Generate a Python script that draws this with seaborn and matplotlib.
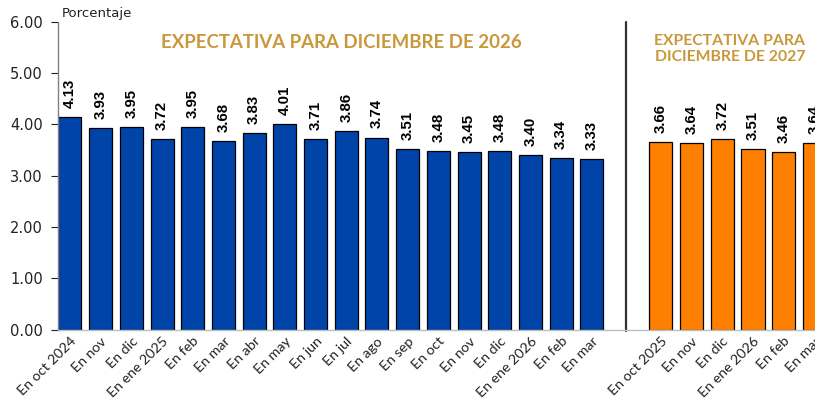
import matplotlib
matplotlib.use("Agg")
import matplotlib.pyplot as plt
import seaborn as sns
import pandas as pd
import numpy as np

# ---- data ----
labels_2026 = ["En oct 2024", "En nov", "En dic", "En ene 2025", "En feb", "En mar",
               "En abr", "En may", "En jun", "En jul", "En ago", "En sep",
               "En oct", "En nov", "En dic", "En ene 2026", "En feb", "En mar"]
values_2026 = [4.13, 3.93, 3.95, 3.72, 3.95, 3.68, 3.83, 4.01, 3.71, 3.86, 3.74, 3.51,
               3.48, 3.45, 3.48, 3.40, 3.34, 3.33]
labels_2027 = ["En oct 2025", "En nov", "En dic", "En ene 2026", "En feb", "En mar"]
values_2027 = [3.66, 3.64, 3.72, 3.51, 3.46, 3.64]
y_ticks = [0, 1, 2, 3, 4, 5, 6]

title_2026 = "EXPECTATIVA PARA DICIEMBRE DE 2026"
title_2027 = "EXPECTATIVA PARA\nDICIEMBRE DE 2027"
ylabel = "Porcentaje"

# ---- layout ----
gap_offset = 1.25  # extra space between the two groups
pos_2026 = list(np.arange(len(values_2026), dtype=float))
pos_2027 = list(np.arange(len(values_2027), dtype=float) + len(values_2026) + gap_offset)
sep_x = len(values_2026) - 1 + (gap_offset + 1) / 2

df = pd.DataFrame({
    "pos": pos_2026 + pos_2027,
    "valor": values_2026 + values_2027,
    "serie": ["2026"] * len(values_2026) + ["2027"] * len(values_2027),
})

sns.set_theme(style="white")
plt.rcParams["font.family"] = ["DejaVu Sans"]

W, H = 815, 407
fig = plt.figure(figsize=(W / 100, H / 100), dpi=100)
ax = fig.add_axes([58 / W, (H - 329.5) / H, 1 - 58 / W, (329.5 - 21.5) / H])

palette = {"2026": "#0044AA", "2027": "#FF8000"}
sns.barplot(data=df, x="pos", y="valor", hue="serie", palette=palette, native_scale=True,
            dodge=False, width=0.75, edgecolor="black", linewidth=0.9, legend=False,
            saturation=1, ax=ax)

for c in ax.containers:
    ax.bar_label(c, fmt="%.2f", rotation=90, padding=6.5, fontsize=10.8, fontweight="bold",
                 family="Liberation Sans", color="black")

ax.set_xlim(-0.39, pos_2027[-1] + 0.02)
ax.set_ylim(0, 6)
ax.set_yticks(y_ticks, [f"{v:.2f}" for v in y_ticks])
ax.set_xticks(pos_2026 + pos_2027, labels_2026 + labels_2027, rotation=45, ha="right",
              rotation_mode="anchor", family="Lato")
ax.tick_params(axis="x", length=0, labelsize=10.3, pad=4, colors="#222222")
ax.tick_params(axis="y", length=5, width=0.8, labelsize=10.5, colors="#222222", left=True,
               direction="out", pad=6)
ax.set_xlabel("")
ax.set_ylabel("")
for s in ["top", "right"]:
    ax.spines[s].set_visible(False)
ax.spines["left"].set_color("#808080")
ax.spines["bottom"].set_color("#BFBFBF")
ax.spines["left"].set_linewidth(1)
ax.spines["bottom"].set_linewidth(1)

ax.plot([sep_x, sep_x], [-0.02, 6], color="#333333", lw=1.6, clip_on=False)

gold = "#C9983A"
ax.text(8.85, 5.6, title_2026, ha="center", va="center",
        color=gold, fontsize=13.4, fontweight="bold", family="Lato")
ax.text(21.5, 5.47, title_2027, ha="center", va="center",
        color=gold, fontsize=11.3, fontweight="bold", family="Lato", linespacing=1.15)

fig.text(62 / W, 1 - 13 / H, ylabel, ha="left", va="center", fontsize=9.5, color="#222222")

fig.savefig("out.png", dpi=100)
